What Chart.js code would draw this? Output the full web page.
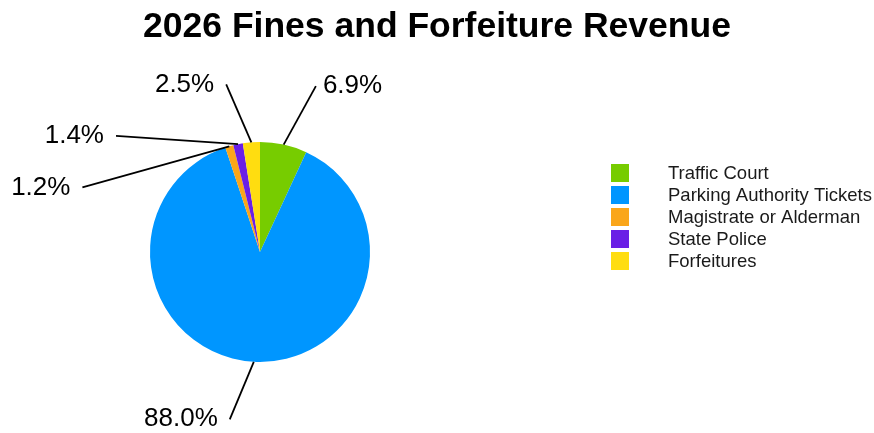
<!DOCTYPE html>
<html>
<head>
<meta charset="utf-8">
<title>2026 Fines and Forfeiture Revenue</title>
<script src="https://cdn.jsdelivr.net/npm/chart.js@4.4.1/dist/chart.umd.min.js"></script>
<style>
  html, body { margin: 0; padding: 0; background: #fff; }
  #wrap { width: 874px; height: 433px; position: relative; }
</style>
</head>
<body>
<div id="wrap"><canvas id="grafico"></canvas></div>
<script>
// Datos del gráfico
var categorias = ["Traffic Court", "Parking Authority Tickets", "Magistrate or Alderman", "State Police", "Forfeitures"];
var porcentajes = [6.9, 88.0, 1.2, 1.4, 2.5];
var colores = ["#77cc00", "#0096ff", "#faa61a", "#6a1fe6", "#ffdd10"];
var titulo = "2026 Fines and Forfeiture Revenue";

// Ajuste de las etiquetas exteriores (grados respecto al centro de la porción, radio de la guía)
var desvioEtiqueta = [6.2, 7, -53.8, -39.6, -6.9];
var radioEtiqueta = [175, 170, 189, 185, 171];

// Plugin para título, leyenda y etiquetas con líneas guía
var plugDibujo = {
  id: "dibujoExtra",
  afterDraw: function (chart) {
    var ctx = chart.ctx;
    ctx.save();

    // Título
    ctx.fillStyle = "#000";
    ctx.font = "bold 35.5px 'Liberation Sans', Arial, sans-serif";
    ctx.textAlign = "center";
    ctx.textBaseline = "middle";
    ctx.fillText(titulo, 437, 27);

    // Etiquetas de porcentaje
    var meta = chart.getDatasetMeta(0);
    ctx.font = "26px 'Liberation Sans', Arial, sans-serif";
    ctx.strokeStyle = "#000";
    ctx.lineWidth = 1.8;
    meta.data.forEach(function (arco, i) {
      var medio = (arco.startAngle + arco.endAngle) / 2;
      var fin = medio + desvioEtiqueta[i] * Math.PI / 180;
      var x0 = arco.x + Math.cos(medio) * arco.outerRadius;
      var y0 = arco.y + Math.sin(medio) * arco.outerRadius;
      var x1 = arco.x + Math.cos(fin) * radioEtiqueta[i];
      var y1 = arco.y + Math.sin(fin) * radioEtiqueta[i];
      ctx.beginPath();
      ctx.moveTo(x0, y0);
      ctx.lineTo(x1, y1);
      ctx.stroke();
      var texto = porcentajes[i].toFixed(1) + "%";
      if (x1 >= arco.x) {
        ctx.textAlign = "left";
        ctx.fillText(texto, x1 + 7, y1);
      } else {
        ctx.textAlign = "right";
        ctx.fillText(texto, x1 - 12, y1);
      }
    });

    // Leyenda
    ctx.font = "18.5px 'Liberation Sans', Arial, sans-serif";
    ctx.textAlign = "left";
    categorias.forEach(function (nombre, i) {
      var yc = 174 + i * 22;
      ctx.fillStyle = colores[i];
      ctx.fillRect(611, yc - 10, 18, 18);
      ctx.fillStyle = "#1a1a1a";
      ctx.fillText(nombre, 668, yc);
    });

    ctx.restore();
  }
};

new Chart(document.getElementById("grafico"), {
  type: "pie",
  data: {
    labels: categorias,
    datasets: [{
      data: porcentajes,
      backgroundColor: colores,
      borderWidth: 0
    }]
  },
  options: {
    responsive: true,
    maintainAspectRatio: false,
    animation: false,
    layout: { padding: { left: 150, right: 504, top: 142, bottom: 71 } },
    plugins: {
      legend: { display: false },
      title: { display: false },
      tooltip: { enabled: false }
    }
  },
  plugins: [plugDibujo]
});
</script>
</body>
</html>
